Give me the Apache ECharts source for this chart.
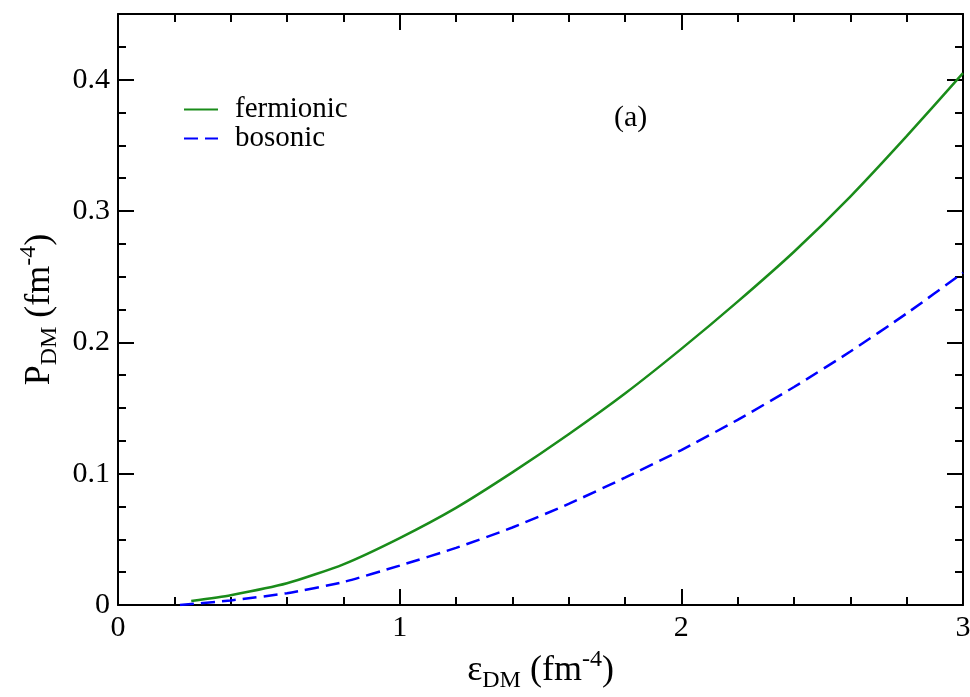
<!DOCTYPE html>
<html>
<head>
<meta charset="utf-8">
<script src="https://cdn.jsdelivr.net/npm/echarts@6/dist/echarts.min.js"></script>
<style>
html, body { margin: 0; padding: 0; background: #fff; }
#chart { width: 970px; height: 697px; }
</style>
</head>
<body>
<div id="chart"></div>
<script>
// energy density (fm^-4) vs pressure (fm^-4)
var fermX = [0.26, 0.4, 0.6, 0.8, 1.0, 1.2, 1.4, 1.6, 1.8, 2.0, 2.2, 2.4, 2.6, 2.8, 3.0];
var fermY = [0.003, 0.0075, 0.0165, 0.031, 0.051, 0.074, 0.101, 0.130, 0.161, 0.195, 0.231, 0.269, 0.311, 0.357, 0.405];
var bosX = [0.22, 0.4, 0.6, 0.8, 1.0, 1.2, 1.4, 1.6, 1.8, 2.0, 2.2, 2.4, 2.6, 2.8, 3.0];
var bosY = [0.0, 0.0035, 0.009, 0.0175, 0.030, 0.0435, 0.059, 0.077, 0.097, 0.118, 0.141, 0.166, 0.193, 0.222, 0.253];

function pairs(xs, ys) {
    var out = [];
    for (var i = 0; i < xs.length; i++) {
        out.push([xs[i], ys[i]]);
    }
    return out;
}

var chart = echarts.init(document.getElementById('chart'));
var serif = 'Liberation Serif';

var axLine = { onZero: false, lineStyle: { color: '#000', width: 2 } };
var axTick = { inside: true, length: 16, lineStyle: { color: '#000', width: 2 } };
function minor(n) {
    return { show: true, splitNumber: n, length: 8, lineStyle: { color: '#000', width: 2 } };
}
var nameRich = {
    a: { fontFamily: serif, fontSize: 36, color: '#000' },
    s: { fontFamily: serif, fontSize: 24, color: '#000', padding: [20, 0, 0, 0] },
    p: { fontFamily: serif, fontSize: 24, color: '#000', padding: [0, 0, 22, 0] }
};

var option = {
    backgroundColor: '#fff',
    animation: false,
    grid: { left: 118, right: 7, top: 14, bottom: 92, outerBoundsMode: 'none', containLabel: false },
    legend: {
        orient: 'vertical',
        left: 178,
        top: 90,
        itemWidth: 34,
        itemHeight: 14,
        itemGap: 0,
        itemStyle: { color: 'transparent', borderColor: 'transparent', borderWidth: 0 },
        textStyle: { fontFamily: serif, fontSize: 29, color: '#000', padding: [0, 0, 0, 12] },
        data: ['fermionic', 'bosonic']
    },
    graphic: [{
        type: 'text',
        left: 614,
        top: 103,
        style: { text: '(a)', fontFamily: serif, fontSize: 30, fill: '#000' }
    }],
    xAxis: [
        {
            type: 'value', position: 'bottom', min: 0, max: 3, interval: 1,
            axisLine: axLine, axisTick: axTick, minorTick: minor(5),
            splitLine: { show: false },
            axisLabel: { fontFamily: serif, fontSize: 30, color: '#000', margin: 8 },
            name: '{a|ε}{s|DM}{a| (fm}{p|-4}{a|)}',
            nameLocation: 'middle',
            nameGap: 39,
            nameTextStyle: { rich: nameRich }
        },
        {
            type: 'value', position: 'top', min: 0, max: 3, interval: 1,
            axisLine: axLine, axisTick: axTick, minorTick: minor(5),
            axisLabel: { show: false }, splitLine: { show: false }
        }
    ],
    yAxis: [
        {
            type: 'value', position: 'left', min: 0, max: 0.45, interval: 0.1,
            axisLine: axLine, axisTick: axTick, minorTick: minor(4),
            splitLine: { show: false },
            axisLabel: {
                fontFamily: serif, fontSize: 30, color: '#000', margin: 8,
                formatter: function (v) { return v === 0 ? '0' : v.toFixed(1); },
                showMaxLabel: false
            },
            name: '{a|P}{s|DM}{a| (fm}{p|-4}{a|)}',
            nameLocation: 'middle',
            nameGap: 54,
            nameRotate: 90,
            nameTextStyle: { rich: nameRich }
        },
        {
            type: 'value', position: 'right', min: 0, max: 0.45, interval: 0.1,
            axisLine: axLine, axisTick: axTick, minorTick: minor(4),
            axisLabel: { show: false }, splitLine: { show: false }
        }
    ],
    series: [
        {
            name: 'fermionic',
            type: 'line',
            xAxisIndex: 0, yAxisIndex: 0,
            data: pairs(fermX, fermY),
            smooth: 0.2,
            showSymbol: false,
            symbol: 'none',
            lineStyle: { color: '#1a8c1a', width: 2.5 },
            itemStyle: { color: '#1a8c1a' }
        },
        {
            name: 'bosonic',
            type: 'line',
            xAxisIndex: 0, yAxisIndex: 0,
            data: pairs(bosX, bosY),
            smooth: 0.2,
            showSymbol: false,
            symbol: 'none',
            lineStyle: { color: '#0000ff', width: 2.5, type: [14, 7] },
            itemStyle: { color: '#0000ff' }
        }
    ]
};

chart.setOption(option);
</script>
</body>
</html>
